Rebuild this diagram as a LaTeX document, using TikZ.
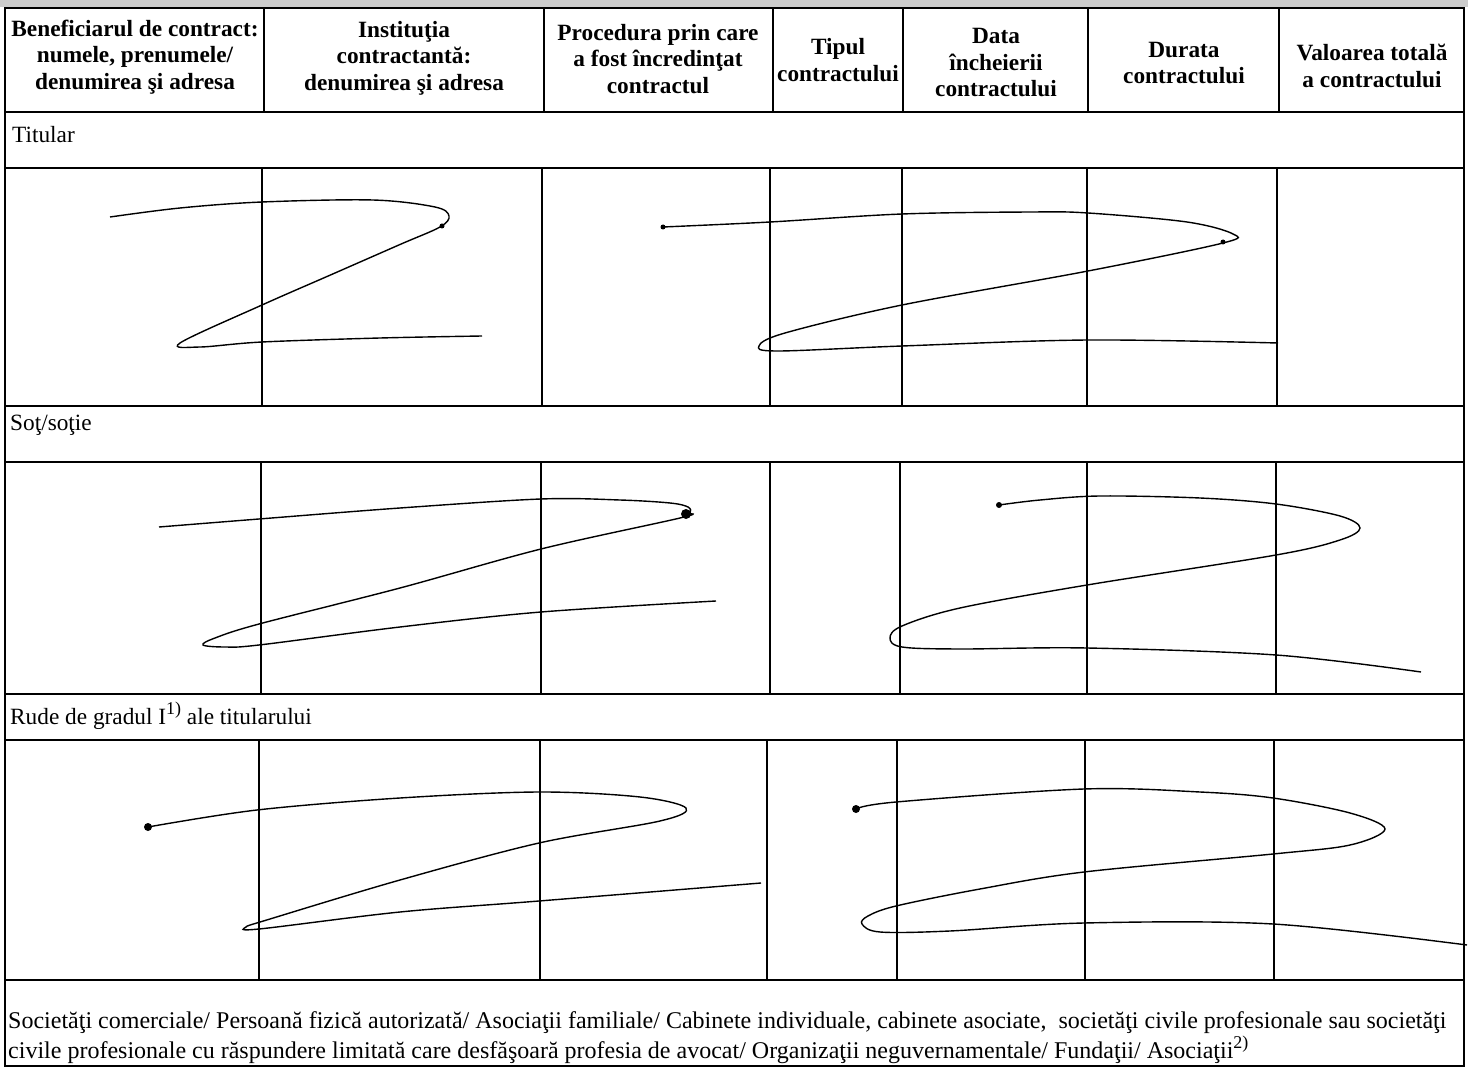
\documentclass[tikz,border=0pt]{standalone}
\usepackage{fontspec}
\setmainfont{Liberation Serif}
\tikzset{
	rule/.style={line width=2pt},
	ink/.style={line width=1.4pt, smooth, tension=0.55},
	headcell/.style={font=\fontsize{23.3}{26.5}\selectfont\bfseries, align=center, inner sep=0pt},
	rowlabel/.style={font=\fontsize{23.3}{29.5}\selectfont, inner sep=0pt}
}
\def\inkdot(#1)(#2){\fill (#1) circle (#2);}

\begin{document}
\begin{tikzpicture}[x=1pt, y=-1pt]
			%%%%% START %%%%%
			\useasboundingbox (0, 0) rectangle (1468, 1075);
			\fill[black!20] (0, 0) rectangle (1468, 7);
			
			\draw[rule] (5, 8) rectangle (1464, 1066);
			
			\draw[rule] (5, 112) -- (1464, 112);
			\draw[rule] (5, 168) -- (1464, 168);
			\draw[rule] (5, 406) -- (1464, 406);
			\draw[rule] (5, 462) -- (1464, 462);
			\draw[rule] (5, 694) -- (1464, 694);
			\draw[rule] (5, 740) -- (1464, 740);
			\draw[rule] (5, 980) -- (1464, 980);
			
			\draw[rule] (264, 8) -- (264, 112);
			\draw[rule] (544, 8) -- (544, 112);
			\draw[rule] (773, 8) -- (773, 112);
			\draw[rule] (903, 8) -- (903, 112);
			\draw[rule] (1088, 8) -- (1088, 112);
			\draw[rule] (1279, 8) -- (1279, 112);
			
			\draw[rule] (262, 168) -- (262, 406);
			\draw[rule] (542, 168) -- (542, 406);
			\draw[rule] (770, 168) -- (770, 406);
			\draw[rule] (902, 168) -- (902, 406);
			\draw[rule] (1087, 168) -- (1087, 406);
			\draw[rule] (1277, 168) -- (1277, 406);
			
			\draw[rule] (261, 462) -- (261, 694);
			\draw[rule] (541, 462) -- (541, 694);
			\draw[rule] (770, 462) -- (770, 694);
			\draw[rule] (900, 462) -- (900, 694);
			\draw[rule] (1087, 462) -- (1087, 694);
			\draw[rule] (1276, 462) -- (1276, 694);
			
			\draw[rule] (259, 740) -- (259, 980);
			\draw[rule] (540, 740) -- (540, 980);
			\draw[rule] (767, 740) -- (767, 980);
			\draw[rule] (897, 740) -- (897, 980);
			\draw[rule] (1085, 740) -- (1085, 980);
			\draw[rule] (1274, 740) -- (1274, 980);
			
			\node[headcell] (hBenef) at (135, 57) {Beneficiarul de contract:\\numele, prenumele/\\denumirea şi adresa};
			\node[headcell] (hInstit) at (404, 58) {Instituţia\\contractantă:\\denumirea şi adresa};
			\node[headcell] (hProced) at (658, 59) {Procedura prin care\\a fost încredinţat\\contractul};
			\node[headcell] (hTip) at (838, 60) {Tipul\\contractului};
			\node[headcell] (hData) at (996, 63) {Data\\încheierii\\contractului};
			\node[headcell] (hDurata) at (1184, 63) {Durata\\contractului};
			\node[headcell] (hValoare) at (1372, 66) {Valoarea totală\\a contractului};
			
			\node[rowlabel, anchor=base west] (lTitular) at (12, 143) {Titular};
			\node[rowlabel, anchor=base west] (lSot) at (10, 431) {Soţ/soţie};
			\node[rowlabel, anchor=base west] (lRude) at (10, 724) {Rude de gradul I\raisebox{0.42em}{\fontsize{18}{18}\selectfont 1)} ale titularului};
			\node[rowlabel, font=\fontsize{24}{30}\selectfont, anchor=west, align=left] (lFirme) at (8, 1038) {Societăţi comerciale/ Persoană fizică autorizată/ Asociaţii familiale/ Cabinete individuale, cabinete asociate, \ societăţi civile profesionale sau societăţi\\civile profesionale cu răspundere limitată care desfăşoară profesia de avocat/ Organizaţii neguvernamentale/ Fundaţii/ Asociaţii\raisebox{0.42em}{\fontsize{18}{18}\selectfont 2)}};
			
			% titular
			\draw[ink] plot coordinates {(110, 217) (180, 208) (262, 202) (373, 200) (435, 207) (449, 216) (440, 227) (400, 244.5) (330, 275.2) (262, 305) (180, 343) (200, 347) (262, 342) (380, 338) (482, 336)};
			\inkdot(442, 226)(2.5)
			\draw[ink] plot coordinates {(663, 227) (770, 222) (902, 214) (1031, 212) (1088, 213) (1187, 222) (1233, 234) (1223, 243) (1088, 271) (902, 305) (785, 333) (759, 346) (778, 351) (902, 346) (1088, 340) (1278, 343)};
			\inkdot(663, 227)(2.5)
			\inkdot(1223, 242)(2.5)
			
			% sot/sotie
			\draw[ink] plot coordinates {(159, 527) (259, 519) (400, 508) (541, 499) (620, 500) (670, 503) (688, 507) (690, 513) (680, 518) (541, 549) (400, 588) (259, 624) (215, 638) (203, 645) (225, 647) (259, 645) (400, 627) (541, 612) (716, 601)};
			\inkdot(686, 514)(5)
			\draw[ink] plot coordinates {(999, 505) (1040, 500) (1100, 496) (1200, 498) (1276, 504) (1340, 516) (1360, 528) (1340, 540) (1276, 555) (1087, 585) (960, 608) (902, 626) (890, 638) (902, 647) (960, 649) (1087, 648) (1276, 655) (1421, 672)};
			\inkdot(999, 505)(3)
			
			% rude
			\draw[ink] plot coordinates {(148, 827) (257, 810) (400, 798) (539, 792) (640, 797) (686, 808) (660, 821) (539, 843) (400, 880) (270, 919) (246, 927) (259, 929) (400, 912) (539, 901) (761, 883)};
			\inkdot(148, 827)(4)
			\draw[ink] plot coordinates {(856, 809) (896, 802) (1084, 789) (1200, 792) (1273, 798) (1350, 813) (1385, 829) (1350, 845) (1273, 854) (1084, 872) (980, 889) (896, 906) (868, 916) (862, 924) (880, 932) (950, 931) (1084, 923) (1273, 924) (1467, 945)};
			\inkdot(856, 809)(4)
			
			%%%%% END %%%%%
\end{tikzpicture}
\end{document}
